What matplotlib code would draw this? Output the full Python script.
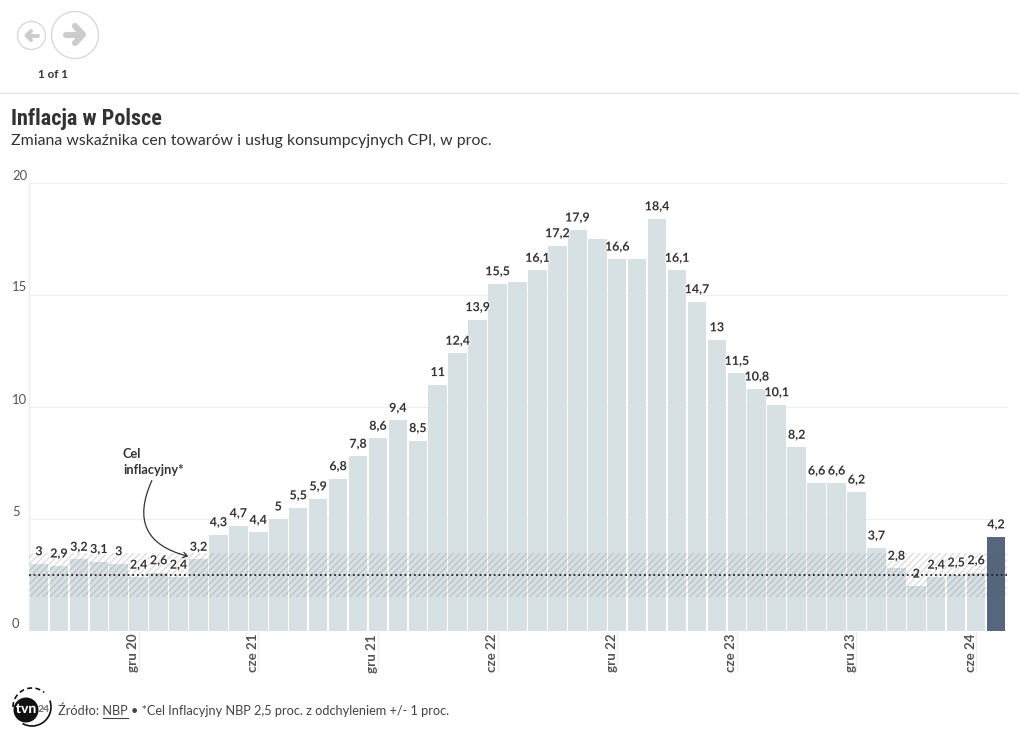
import matplotlib
matplotlib.use("Agg")
import matplotlib.pyplot as plt
import matplotlib.patheffects as pe
from matplotlib.patches import Circle, Arc, FancyArrowPatch
from matplotlib.transforms import ScaledTranslation

months = ["lip 20", "sie 20", "wrz 20", "paź 20", "lis 20", "gru 20",
          "sty 21", "lut 21", "mar 21", "kwi 21", "maj 21", "cze 21",
          "lip 21", "sie 21", "wrz 21", "paź 21", "lis 21", "gru 21",
          "sty 22", "lut 22", "mar 22", "kwi 22", "maj 22", "cze 22",
          "lip 22", "sie 22", "wrz 22", "paź 22", "lis 22", "gru 22",
          "sty 23", "lut 23", "mar 23", "kwi 23", "maj 23", "cze 23",
          "lip 23", "sie 23", "wrz 23", "paź 23", "lis 23", "gru 23",
          "sty 24", "lut 24", "mar 24", "kwi 24", "maj 24", "cze 24", "lip 24"]
cpi = [3, 2.9, 3.2, 3.1, 3, 2.4,
       2.6, 2.4, 3.2, 4.3, 4.7, 4.4,
       5, 5.5, 5.9, 6.8, 7.8, 8.6,
       9.4, 8.5, 11, 12.4, 13.9, 15.5,
       15.6, 16.1, 17.2, 17.9, 17.5, 16.6,
       16.6, 18.4, 16.1, 14.7, 13, 11.5,
       10.8, 10.1, 8.2, 6.6, 6.6, 6.2,
       3.7, 2.8, 2, 2.4, 2.5, 2.6, 4.2]
no_label = ["lip 22", "lis 22", "sty 23"]
tick_months = ["gru 20", "cze 21", "gru 21", "cze 22", "gru 22", "cze 23", "gru 23", "cze 24"]
y_ticks = [0, 5, 10, 15, 20]
target = 2.5
target_low = 1.5
target_high = 3.5

W, H = 1020, 743
DPI = 100
dark = "#333333"
plt.rcParams["font.family"] = ["Lato", "DejaVu Sans"]
plt.rcParams["hatch.linewidth"] = 1.0

fig = plt.figure(figsize=(W / DPI, H / DPI), dpi=DPI, facecolor="white")

# page furniture, in pixel coordinates
bg = fig.add_axes([0, 0, 1, 1], zorder=0)
bg.set_xlim(0, W)
bg.set_ylim(H, 0)
bg.axis("off")
bg.plot([0, W], [92.5, 92.5], color="#e6e6e6", lw=1)
bg.add_patch(Circle((31.5, 35.5), 14, fc="white", ec="#d9d9d9", lw=1))
bg.add_patch(Circle((75, 35), 23.5, fc="white", ec="#d9d9d9", lw=1))
bg.plot([38, 27], [35.5, 35.5], color="#cccccc", lw=2.8, solid_capstyle="round")
bg.plot([31, 26.5, 31], [31, 35.5, 40], color="#cccccc", lw=2.8, solid_capstyle="round", solid_joinstyle="round")
bg.plot([66, 82], [34.5, 34.5], color="#cccccc", lw=4.4, solid_capstyle="round")
bg.plot([75, 83, 75], [26, 34.5, 43], color="#cccccc", lw=4.4, solid_capstyle="round", solid_joinstyle="round")
bg.text(53, 74, "1 of 1", fontsize=8.4, fontweight="bold", color=dark, ha="center", va="center")
bg.text(11, 119, "Inflacja w Polsce", fontsize=16, fontweight="bold", fontstretch="condensed", color=dark, va="center",
        family=["Roboto Condensed", "Liberation Sans Narrow", "Roboto"])
bg.text(11, 141.5, "Zmiana wskaźnika cen towarów i usług konsumpcyjnych CPI, w proc.", fontsize=11.4,
        color=dark, va="center")

# logo
bg.add_patch(Circle((26, 710), 12.5, fc="#111111", ec="none"))
bg.text(44, 709, "24", fontsize=7.5, fontweight="black", color="#777777", ha="center", va="center", zorder=4)
bg.text(26, 709, "tvn", fontsize=10, fontweight="black", color="white", ha="center", va="center", zorder=5,
        path_effects=[pe.withStroke(linewidth=2.5, foreground="#111111")])
bg.add_patch(Arc((32, 707), 38, 38, theta1=-20, theta2=120, color="#111111", lw=1.2))
bg.add_patch(Arc((32, 707), 38, 38, theta1=180, theta2=310, color="#111111", lw=1.2, ls=(0, (3, 2))))

bg.text(58, 710, "Źródło: NBP • *Cel Inflacyjny NBP 2,5 proc. z odchyleniem +/- 1 proc.", fontsize=9.2,
        color="#444444", va="center")
bg.plot([103, 128], [717.5, 717.5], color="#444444", lw=0.8)

# chart
x0, x1, y0, y1 = 29, 1007, 183, 631
ax = fig.add_axes([x0 / W, 1 - y1 / H, (x1 - x0) / W, (y1 - y0) / H], zorder=1)
ax.patch.set_alpha(0)
ax.set_xlim(-0.5, 48.55)
ax.set_ylim(0, 20)
for s in ["top", "right", "bottom"]:
    ax.spines[s].set_visible(False)
ax.spines["left"].set_color("#ededed")
ax.spines["left"].set_linewidth(1)

ax.set_axisbelow(True)
ax.yaxis.grid(True, color="#efefef", lw=0.8)

colors = ["#d7e0e3"] * (len(cpi) - 1) + ["#56667f"]
xs = list(range(len(cpi)))
ax.bar(xs, cpi, width=0.93, color=colors, zorder=2)

ax.axhspan(target_low, target_high, facecolor="none", edgecolor=(0.35, 0.35, 0.35, 0.2), hatch="/////", lw=0, zorder=3)
ax.axhline(target, color="#222222", lw=1.3, ls=(0, (1, 1.6)), zorder=6)

for x, v, m in zip(xs, cpi, months):
    if m in no_label:
        continue
    ax.annotate(f"{v:g}".replace(".", ","), (x, v), xytext=(0, 9), textcoords="offset points",
                ha="center", va="center", fontsize=9, fontweight="bold", color=dark, zorder=5,
                path_effects=[pe.withStroke(linewidth=1.5, foreground="white")])

ax.set_xticks([months.index(m) for m in tick_months])
ax.set_xticklabels(tick_months, rotation=90, fontsize=9.6, color="#555555", fontweight="bold", va="top", ha="center")
ax.tick_params(axis="x", length=29, width=1, color="#eeeeee", pad=-27)
shift = ScaledTranslation(-5.5 / DPI, 0, fig.dpi_scale_trans)
for lab in ax.get_xticklabels():
    lab.set_transform(lab.get_transform() + shift)

ax.set_yticks(y_ticks)
ax.set_yticklabels([str(t) for t in y_ticks], fontsize=9.4, color="#555555", ha="left", va="center")
ax.tick_params(axis="y", length=0, pad=0)
shift = ScaledTranslation(-17 / DPI, 7.5 / DPI, fig.dpi_scale_trans)
for lab in ax.get_yticklabels():
    lab.set_transform(lab.get_transform() + shift)

# annotation on top, in pixel coordinates
top = fig.add_axes([0, 0, 1, 1], zorder=2)
top.set_xlim(0, W)
top.set_ylim(H, 0)
top.axis("off")
top.text(123, 462.5, "Cel\ninflacyjny*", fontsize=9.2, fontweight="bold", color=dark, va="center", linespacing=1.4)
top.add_patch(FancyArrowPatch((153, 478), (191, 557), connectionstyle="arc3,rad=0.62", arrowstyle="->,head_width=2,head_length=3",
                              color="#333333", lw=0.9))

fig.savefig("out.png", dpi=DPI)
